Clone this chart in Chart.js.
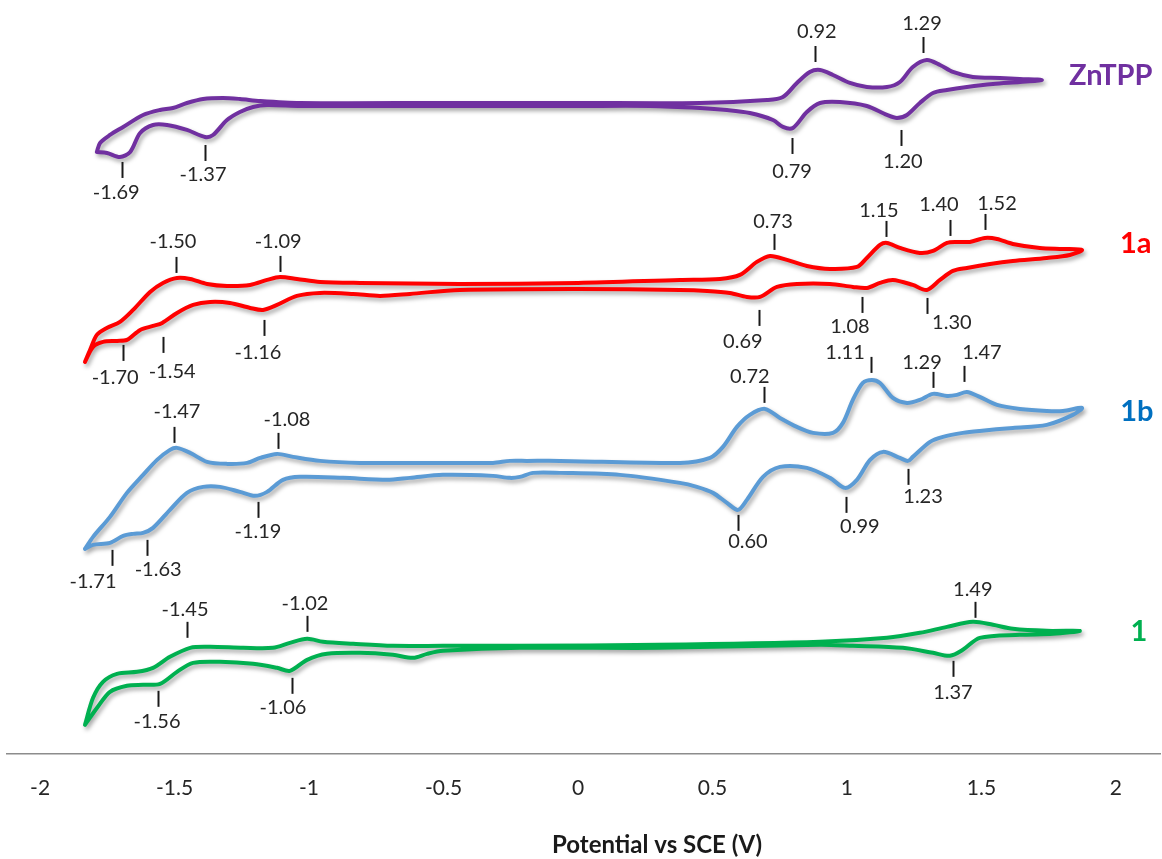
<!DOCTYPE html>
<html>
<head>
<meta charset="utf-8">
<script src="https://cdn.jsdelivr.net/npm/chart.js@4/dist/chart.umd.min.js"></script>
<style>
  html, body { margin: 0; padding: 0; background: #fff; }
  canvas { display: block; }
</style>
</head>
<body>
<canvas id="cv" width="1162" height="859"></canvas>
<script>
/*********************************************************
 * DATA  (potential in V, current in arbitrary offset units)
 *********************************************************/
const tickValues = [-2, -1.5, -1, -0.5, 0, 0.5, 1, 1.5, 2];

const seriesNames = ["ZnTPP", "1a", "1b", "1"];
const nameV = [1.981, 2.074, 2.078, 2.086];
const nameI = [678, 510, 342, 122];

// ZnTPP
const zntppForward = [
  [-1.789,602],[-1.777,611],[-1.740,619],[-1.691,627],[-1.617,639],[-1.554,644],
  [-1.506,646],[-1.454,651],[-1.394,655],[-1.320,656],[-1.257,655],[-1.182,653],
  [-1.033,651],[-0.5,651],[0,651],[0.454,651],[0.703,654],[0.762,657],[0.814,671],
  [0.862,682],[0.900,684],[0.948,679],[1.011,671],[1.074,667],[1.149,667],[1.197,672],
  [1.245,687],[1.297,694],[1.346,689],[1.394,682],[1.468,677],[1.569,676],[1.643,675],
  [1.725,674]
];
const zntppReverse = [
  [1.643,672],[1.543,670],[1.446,667],[1.372,664],[1.320,661],[1.271,651],[1.223,639],
  [1.186,636],[1.149,639],[1.074,648],[0.974,652],[0.900,651],[0.851,642],[0.799,626],
  [0.762,627],[0.725,634],[0.639,641],[0.554,644],[0.454,646],[0.268,648],[0,648],
  [-0.5,648],[-1.033,648],[-1.156,649],[-1.208,647],[-1.257,642],[-1.305,634],
  [-1.357,619],[-1.387,617],[-1.454,624],[-1.528,629],[-1.580,629],[-1.628,621],
  [-1.665,602],[-1.703,597],[-1.751,601],[-1.789,602]
];
const zntppMarks = [
  // label, tick V, tick I, direction, text V, text I
  ["0.92", 0.881, 692, 1, 0.888, 722],
  ["1.29", 1.283, 701, 1, 1.279, 730],
  ["0.79", 0.796, 616, -1, 0.796, 582],
  ["1.20", 1.201, 624, -1, 1.208, 592],
  ["-1.69", -1.696, 592, -1, -1.717, 561],
  ["-1.37", -1.387, 609, -1, -1.394, 579]
];

// 1a
const s1aForward = [
  [-1.833,392],[-1.814,404],[-1.789,419],[-1.752,426],[-1.703,432],[-1.654,444],
  [-1.591,462],[-1.543,471],[-1.491,476],[-1.442,475],[-1.379,470],[-1.305,468],
  [-1.219,469],[-1.156,474],[-1.108,477],[-1.045,475],[-0.959,472],[-0.810,471],
  [-0.439,470],[0,471],[0.379,474],[0.528,475],[0.602,479],[0.665,492],[0.714,498],
  [0.777,494],[0.851,488],[0.937,485],[1.037,487],[1.074,496],[1.123,509],[1.149,511],
  [1.197,506],[1.271,501],[1.320,503],[1.372,511],[1.409,512],[1.457,512],[1.513,516],
  [1.558,515],[1.617,510],[1.717,506],[1.803,505],[1.874,504]
];
const s1aReverse = [
  [1.829,499],[1.743,496],[1.617,493],[1.532,490],[1.446,486],[1.394,483],[1.346,474],
  [1.297,464],[1.245,469],[1.171,474],[1.123,471],[1.074,466],[1.022,467],[0.937,470],
  [0.814,470],[0.740,467],[0.677,457],[0.628,457],[0.565,461],[0.480,463],[0.379,464],
  [0,465],[-0.439,464],[-0.625,460],[-0.736,458],[-0.836,460],[-0.959,461],[-1.045,458],
  [-1.119,449],[-1.171,444],[-1.219,446],[-1.294,451],[-1.368,452],[-1.431,449],
  [-1.491,441],[-1.546,431],[-1.580,428],[-1.628,424],[-1.677,414],[-1.714,413],
  [-1.766,412],[-1.803,407],[-1.833,392]
];
const s1aMarks = [
  ["-1.50", -1.496, 481, 1, -1.506, 512],
  ["-1.09", -1.108, 482, 1, -1.115, 512],
  ["-1.70", -1.690, 409, -1, -1.721, 376],
  ["-1.54", -1.544, 417, -1, -1.509, 382],
  ["-1.16", -1.167, 434, -1, -1.190, 401],
  ["0.73", 0.730, 504, 1, 0.725, 532],
  ["1.15", 1.144, 517, 1, 1.119, 543],
  ["1.40", 1.385, 518, 1, 1.342, 549],
  ["1.52", 1.513, 524, 1, 1.558, 550],
  ["0.69", 0.673, 444, -1, 0.613, 412],
  ["1.08", 1.055, 457, -1, 1.011, 427],
  ["1.30", 1.296, 456, -1, 1.390, 431]
];

// 1b
const s1bForward = [
  [-1.833,205],[-1.803,217],[-1.740,237],[-1.677,261],[-1.617,279],[-1.565,294],
  [-1.517,304],[-1.491,306],[-1.442,301],[-1.379,292],[-1.305,290],[-1.230,291],
  [-1.182,296],[-1.119,300],[-1.059,297],[-0.959,293],[-0.810,291],[-0.561,291],
  [-0.316,291],[-0.253,293],[-0.190,293],[-0.067,293],[0.379,291],[0.491,296],
  [0.539,307],[0.591,327],[0.639,339],[0.695,345],[0.751,336],[0.814,327],[0.874,321],
  [0.948,321],[0.985,331],[1.022,354],[1.059,371],[1.093,374],[1.123,371],[1.171,356],
  [1.223,351],[1.271,354],[1.320,360],[1.372,358],[1.409,359],[1.446,362],[1.494,357],
  [1.558,349],[1.643,345],[1.743,343],[1.803,343],[1.874,346]
];
const s1bReverse = [
  [1.840,339],[1.743,329],[1.617,326],[1.494,323],[1.431,321],[1.357,317],[1.309,312],
  [1.245,297],[1.227,293],[1.197,296],[1.134,302],[1.086,294],[1.037,274],[0.993,266],
  [0.937,276],[0.851,286],[0.751,287],[0.688,277],[0.628,254],[0.595,244],[0.554,251],
  [0.502,261],[0.442,267],[0.379,271],[0.156,279],[-0.067,281],[-0.167,281],
  [-0.216,277],[-0.253,276],[-0.316,278],[-0.502,279],[-0.625,276],[-0.710,274],
  [-0.874,276],[-1.033,277],[-1.097,274],[-1.156,262],[-1.201,258],[-1.257,262],
  [-1.331,267],[-1.394,267],[-1.454,261],[-1.517,244],[-1.580,226],[-1.617,221],
  [-1.654,220],[-1.691,218],[-1.740,211],[-1.803,209],[-1.833,205]
];
const s1bMarks = [
  ["-1.47", -1.501, 311, 1, -1.491, 342],
  ["-1.08", -1.115, 305, 1, -1.082, 334],
  ["-1.71", -1.734, 204, -1, -1.803, 172],
  ["-1.63", -1.601, 214, -1, -1.561, 184],
  ["-1.19", -1.191, 252, -1, -1.190, 222],
  ["0.72", 0.693, 351, 1, 0.639, 377],
  ["1.11", 1.088, 381, 1, 0.993, 401],
  ["1.29", 1.319, 366, 1, 1.279, 391],
  ["1.47", 1.435, 372, 1, 1.502, 401],
  ["0.60", 0.594, 239, -1, 0.632, 212],
  ["0.99", 0.995, 257, -1, 1.048, 227],
  ["1.23", 1.228, 285, -1, 1.283, 257]
];

// 1
const s1Forward = [
  [-1.833,29],[-1.803,56],[-1.766,72],[-1.714,80],[-1.639,82],[-1.580,86],[-1.517,97],
  [-1.442,106],[-1.368,107],[-1.245,106],[-1.134,106],[-1.071,111],[-1.007,115],
  [-0.948,112],[-0.836,110],[-0.688,108],[-0.502,108],[-0.216,108],[0.3,109],
  [0.900,112],[1.149,116],[1.271,121],[1.372,127],[1.468,132],[1.543,129],[1.617,125],
  [1.743,123],[1.866,123]
];
const s1Reverse = [
  [1.766,120],[1.643,119],[1.494,116],[1.431,104],[1.383,98],[1.320,101],[1.208,106],
  [1.022,108],[0.900,109],[0.3,106],[-0.216,106],[-0.502,103],[-0.561,100],[-0.613,96],
  [-0.688,99],[-0.810,101],[-0.933,100],[-1.007,94],[-1.071,83],[-1.119,86],[-1.208,90],
  [-1.331,92],[-1.431,91],[-1.491,82],[-1.554,70],[-1.617,69],[-1.677,68],[-1.740,62],
  [-1.788,46],[-1.833,29]
];
const s1Marks = [
  ["-1.45", -1.452, 116, 1, -1.461, 144],
  ["-1.02", -1.009, 122, 1, -1.015, 150],
  ["-1.56", -1.560, 63, -1, -1.565, 32],
  ["-1.06", -1.064, 76, -1, -1.097, 46],
  ["1.49", 1.476, 136, 1, 1.468, 164],
  ["1.37", 1.395, 93, -1, 1.394, 61]
];

/*********************************************************
 * STYLE
 *********************************************************/
const lineColors = ["#7030A0", "#FF0000", "#5B9BD5", "#00B050"];
const nameColors = ["#7030A0", "#FF0000", "#0070C0", "#00B050"];
const FONT = "Lato";

const loops = [
  zntppForward.concat(zntppReverse),
  s1aForward.concat(s1aReverse),
  s1bForward.concat(s1bReverse),
  s1Forward.concat(s1Reverse)
];
const allMarks = [].concat(zntppMarks, s1aMarks, s1bMarks, s1Marks);

/*********************************************************
 * PLUGINS
 *********************************************************/
const shadowPlugin = {
  id: "lineShadow",
  beforeDatasetsDraw(chart) {
    const c = chart.ctx;
    c.save();
    c.shadowColor = "rgba(0,0,0,0.35)";
    c.shadowBlur = 4;
    c.shadowOffsetX = 2;
    c.shadowOffsetY = 3;
  },
  afterDatasetsDraw(chart) {
    chart.ctx.restore();
  }
};

const labelPlugin = {
  id: "peakLabels",
  afterDraw(chart) {
    const { ctx, scales: { x, y } } = chart;
    ctx.save();

    // peak marks
    ctx.strokeStyle = "#1a1a1a";
    ctx.lineWidth = 2;
    ctx.fillStyle = "#262626";
    ctx.font = "20px " + FONT;
    ctx.textAlign = "center";
    ctx.textBaseline = "middle";
    allMarks.forEach(([txt, tv, ti, dir, lv, li]) => {
      const px = Math.round(x.getPixelForValue(tv)) + 0.5;
      const py = y.getPixelForValue(ti);
      ctx.beginPath();
      ctx.moveTo(px, py);
      ctx.lineTo(px, py - dir * 16);
      ctx.stroke();
      ctx.fillText(txt, x.getPixelForValue(lv), y.getPixelForValue(li));
    });

    // series names
    ctx.font = "bold 29px " + FONT;
    seriesNames.forEach((n, i) => {
      ctx.fillStyle = nameColors[i];
      ctx.fillText(n, x.getPixelForValue(nameV[i]), y.getPixelForValue(nameI[i]));
    });

    // axis title
    ctx.fillStyle = "#1a1a1a";
    ctx.font = "bold 24px " + FONT;
    ctx.fillText("Potential vs SCE (V)", 657, 845);

    ctx.restore();
  }
};

/*********************************************************
 * CHART
 *********************************************************/
new Chart(document.getElementById("cv"), {
  type: "line",
  data: {
    datasets: loops.map((pts, i) => ({
      label: seriesNames[i],
      data: pts.map(p => ({ x: p[0], y: p[1] })),
      borderColor: lineColors[i],
      borderWidth: 4,
      tension: 0.3,
      pointRadius: 0,
      fill: false,
      borderCapStyle: "round",
      borderJoinStyle: "round"
    }))
  },
  options: {
    responsive: false,
    animation: false,
    layout: { padding: { left: 7, right: 2, top: 0, bottom: 36 } },
    plugins: { legend: { display: false }, tooltip: { enabled: false } },
    scales: {
      x: {
        type: "linear",
        min: -2.123,
        max: 2.164,
        afterBuildTicks: s => { s.ticks = tickValues.map(v => ({ value: v })); },
        ticks: {
          font: { family: FONT, size: 21 },
          color: "#262626",
          padding: 22,
          maxRotation: 0,
          callback: v => String(v)
        },
        grid: { display: false, drawTicks: false },
        border: { display: true, color: "#8c8c8c", width: 1.5 }
      },
      y: { type: "linear", min: 0, max: 754, display: false }
    }
  },
  plugins: [shadowPlugin, labelPlugin]
});
</script>
</body>
</html>
